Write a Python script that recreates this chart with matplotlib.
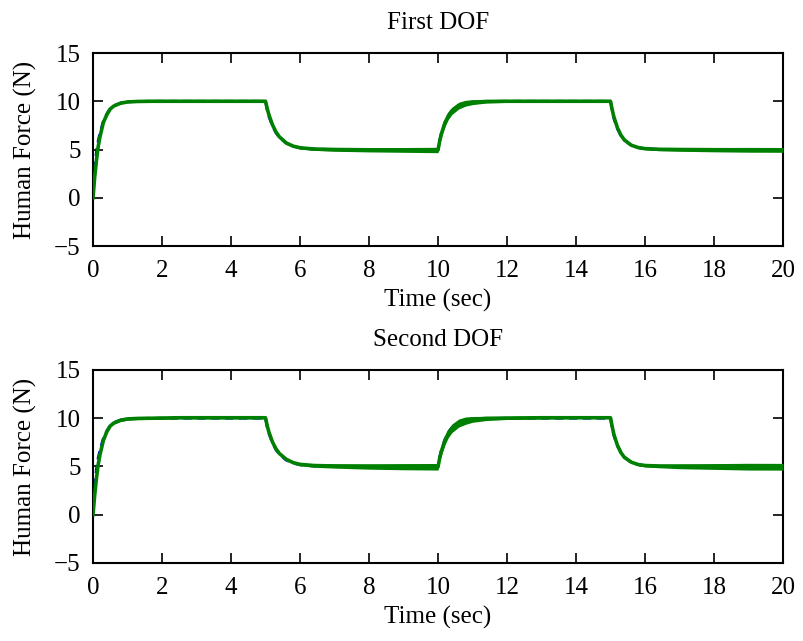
import matplotlib
matplotlib.use("Agg")
import matplotlib.pyplot as plt
import numpy as np

plt.rcParams['font.family'] = ['Liberation Serif', 'DejaVu Serif']

# Sample times (s) for the force profiles
time = [0, 0.05, 0.1, 0.15, 0.2, 0.3, 0.4, 0.5, 0.6, 0.8, 1.0, 1.3, 1.7, 2.5, 4.99,
        5.0, 5.05, 5.1, 5.2, 5.3, 5.4, 5.6, 5.8, 6.0, 6.4, 7, 8, 9, 9.99,
        10.0, 10.05, 10.1, 10.2, 10.3, 10.4, 10.6, 10.8, 11.0, 11.4, 12, 13, 14, 14.99,
        15.0, 15.05, 15.1, 15.2, 15.3, 15.4, 15.6, 15.8, 16.0, 16.4, 17, 18, 19, 20]

# Desired (reference) human force
ref_force = [0, 3.0, 4.8, 5.9, 6.7, 7.95, 8.7, 9.25, 9.55, 9.82, 9.94, 9.98, 10.0, 10.0, 10.0,
             10.0, 9.05, 8.4, 7.45, 6.75, 6.26, 5.66, 5.34, 5.17, 5.05, 5.0, 4.97, 4.96, 4.95,
             4.95, 6.0, 6.75, 7.8, 8.55, 9.02, 9.56, 9.8, 9.9, 9.98, 10.0, 10.0, 10.0, 10.0,
             10.0, 8.95, 8.2, 7.15, 6.45, 5.97, 5.44, 5.2, 5.09, 5.02, 5.0, 4.98, 4.97, 4.96]

# First DOF: measured human force and chatter half-width
force_1 = [0, 2.2, 3.9, 5.3, 6.3, 7.8, 8.6, 9.2, 9.5, 9.8, 9.93, 9.98, 10.0, 10.0, 10.0,
           10.0, 9.23, 8.58, 7.57, 6.84, 6.32, 5.68, 5.35, 5.18, 5.05, 5.0, 4.97, 4.96, 4.95,
           4.95, 5.9, 6.65, 7.75, 8.5, 9.0, 9.55, 9.8, 9.9, 9.98, 10.0, 10.0, 10.0, 10.0,
           10.0, 9.1, 8.35, 7.25, 6.5, 6.0, 5.45, 5.2, 5.09, 5.02, 5.0, 4.98, 4.97, 4.96]
band_1 = [0, 0, 0, 0, 0, 0.02, 0.03, 0.04, 0.05, 0.06, 0.07, 0.08, 0.08, 0.08, 0.08,
          0.08, 0.05, 0.05, 0.05, 0.05, 0.06, 0.08, 0.1, 0.12, 0.14, 0.18, 0.22, 0.25, 0.28,
          0.28, 0.3, 0.35, 0.38, 0.38, 0.38, 0.35, 0.3, 0.25, 0.16, 0.12, 0.1, 0.08, 0.08,
          0.08, 0.05, 0.05, 0.05, 0.05, 0.06, 0.08, 0.1, 0.12, 0.14, 0.18, 0.22, 0.25, 0.25]

# Second DOF: measured human force and chatter half-width
force_2 = [0, 2.1, 3.8, 5.2, 6.2, 7.7, 8.6, 9.2, 9.5, 9.8, 9.93, 9.98, 10.0, 10.05, 10.05,
           10.05, 9.2, 8.55, 7.55, 6.85, 6.35, 5.75, 5.4, 5.22, 5.1, 5.05, 5.0, 4.98, 4.97,
           4.97, 5.9, 6.6, 7.7, 8.45, 8.95, 9.5, 9.75, 9.88, 9.98, 10.02, 10.05, 10.05, 10.05,
           10.05, 9.1, 8.3, 7.2, 6.45, 5.95, 5.45, 5.2, 5.1, 5.05, 5.02, 5.0, 4.98, 4.97]
band_2 = [0, 0, 0, 0, 0.03, 0.06, 0.08, 0.1, 0.12, 0.14, 0.14, 0.12, 0.12, 0.1, 0.1,
          0.1, 0.06, 0.06, 0.06, 0.06, 0.07, 0.1, 0.12, 0.15, 0.18, 0.22, 0.28, 0.32, 0.34,
          0.34, 0.36, 0.4, 0.45, 0.45, 0.45, 0.42, 0.38, 0.3, 0.22, 0.15, 0.12, 0.08, 0.06,
          0.06, 0.05, 0.05, 0.05, 0.05, 0.06, 0.08, 0.12, 0.15, 0.18, 0.25, 0.3, 0.35, 0.35]

titles = ["First DOF", "Second DOF"]
x_ticks = list(range(0, 21, 2))
y_ticks = [-5, 0, 5, 10, 15]

green = (0.0, 0.5, 0.0)
blue = (0.0, 0.0, 1.0)

fig = plt.figure(figsize=(8.04, 6.41), dpi=100)
axes_boxes = [[0.1157, 0.6162, 0.8582, 0.3011],
              [0.1157, 0.1217, 0.8582, 0.3011]]

for box, title, force, band in zip(axes_boxes, titles, [force_1, force_2], [band_1, band_2]):
    ax = fig.add_axes(box)
    t = np.asarray(time)
    f = np.asarray(force)
    b = np.asarray(band)
    ax.plot(t, ref_force, color=blue, lw=2.0, ls='--', dashes=(3, 2), zorder=2)
    ax.fill_between(t, f - b, f + b, color=green, lw=0, zorder=3)
    ax.plot(t, f, color=green, lw=2.6, zorder=4)
    ax.set_xlim(0, 20)
    ax.set_ylim(-5, 15)
    ax.set_xticks(x_ticks)
    ax.set_yticks(y_ticks)
    ax.set_yticklabels([f"{v}".replace("-", "\u2212") for v in y_ticks])
    ax.tick_params(direction='in', length=7, width=1.2, top=True, right=True,
                   labelsize=18)
    ax.tick_params(axis='x', pad=10)
    ax.tick_params(axis='y', pad=9)
    for s in ax.spines.values():
        s.set_linewidth(1.5)
    ax.set_title(title, fontsize=18, pad=17)
    ax.set_xlabel("Time (sec)", fontsize=18, labelpad=5)
    ax.set_ylabel("Human Force (N)", fontsize=18, labelpad=12)

fig.savefig("out.png", dpi=100)
